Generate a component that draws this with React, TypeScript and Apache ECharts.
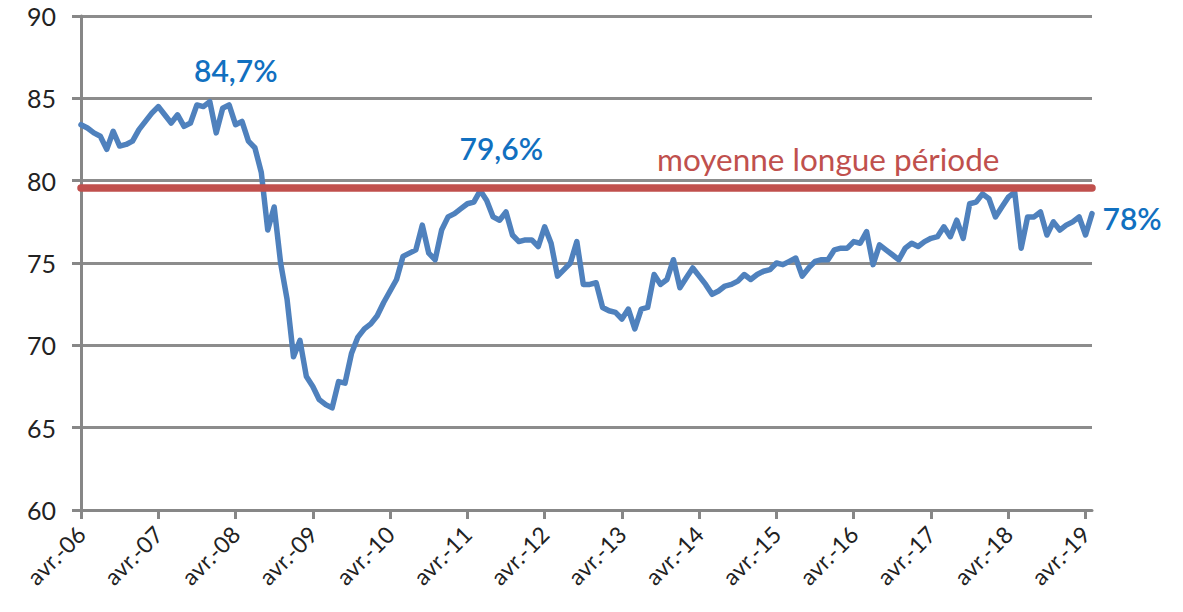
import React, { useEffect, useRef } from "react";
import * as echarts from "echarts";

const startYear = 2006;
const startMonth = 3; // avril
const monthNames = ["janv.", "févr.", "mars", "avr.", "mai", "juin", "juil.", "août", "sept.", "oct.", "nov.", "déc."];

// Taux d'utilisation des capacités, mensuel, avr.-06 à mai-19
const values2006 = [83.4, 83.2, 82.9, 82.7, 81.9, 83.0, 82.1, 82.2, 82.4];
const values2007 = [83.1, 83.6, 84.1, 84.5, 84.0, 83.5, 84.0, 83.3, 83.5, 84.6, 84.5, 84.8];
const values2008 = [82.9, 84.4, 84.6, 83.4, 83.6, 82.4, 82.0, 80.5, 77.0, 78.4, 75.0, 72.8];
const values2009 = [69.3, 70.3, 68.1, 67.5, 66.7, 66.4, 66.2, 67.8, 67.7, 69.5, 70.5, 71.0];
const values2010 = [71.3, 71.8, 72.6, 73.3, 74.0, 75.4, 75.6, 75.8, 77.3, 75.6, 75.2, 77.0];
const values2011 = [77.8, 78.0, 78.3, 78.6, 78.7, 79.4, 78.8, 77.8, 77.6, 78.1, 76.7, 76.3];
const values2012 = [76.4, 76.4, 76.0, 77.2, 76.2, 74.2, 74.6, 75.0, 76.3, 73.7, 73.7, 73.8];
const values2013 = [72.3, 72.1, 72.0, 71.6, 72.2, 71.0, 72.2, 72.3, 74.3, 73.7, 74.0, 75.2];
const values2014 = [73.5, 74.1, 74.7, 74.2, 73.7, 73.1, 73.3, 73.6, 73.7, 73.9, 74.3, 74.0];
const values2015 = [74.3, 74.5, 74.6, 75.0, 74.9, 75.1, 75.3, 74.2, 74.7, 75.1, 75.2, 75.2];
const values2016 = [75.8, 75.9, 75.9, 76.3, 76.2, 76.9, 74.9, 76.1, 75.8, 75.5, 75.2, 75.9];
const values2017 = [76.2, 76.0, 76.3, 76.5, 76.6, 77.2, 76.6, 77.6, 76.5, 78.6, 78.7, 79.2];
const values2018 = [78.9, 77.8, 78.4, 79.0, 79.3, 75.9, 77.8, 77.8, 78.1, 76.7, 77.5, 77.0];
const values2019 = [77.3, 77.5, 77.8, 76.7, 78.0];

const seriesValues = [
  ...values2006, ...values2007, ...values2008, ...values2009, ...values2010,
  ...values2011, ...values2012, ...values2013, ...values2014, ...values2015,
  ...values2016, ...values2017, ...values2018, ...values2019,
];

const categories = seriesValues.map((_, i) => {
  const m = (startMonth + i) % 12;
  const y = startYear + Math.floor((startMonth + i) / 12);
  return `${monthNames[m]}-${String(y % 100).padStart(2, "0")}`;
});

const longTermAverage = 79.6;
const averageLabel = "moyenne longue période";
const annotations = [
  { index: 20, text: "84,7%" },
  { index: 62, text: "79,6%" },
];
const lastLabel = "78%";
const yTicks = { min: 60, max: 90, interval: 5 };

const FONT = "Lato, 'Open Sans', sans-serif";

export default function App() {
  const ref = useRef<HTMLDivElement>(null);
  useEffect(() => {
    if (!ref.current) return;
    const chart = echarts.init(ref.current, null, { renderer: "svg" });
    const last = seriesValues.length - 1;
    const annLabel = {
      show: true,
      fontSize: 30,
      fontWeight: 600,
      color: "#1170C0",
      fontFamily: FONT,
    };
    chart.setOption({
      animation: false,
      backgroundColor: "#ffffff",
      textStyle: { fontFamily: FONT },
      grid: { left: 81, right: 91, top: 16, bottom: 102, containLabel: false },
      xAxis: {
        type: "category",
        data: categories,
        boundaryGap: false,
        axisLine: { show: true, lineStyle: { color: "#878787", width: 3 } },
        axisTick: {
          show: true,
          interval: (i: number) => i % 12 === 0,
          length: 9,
          lineStyle: { color: "#878787", width: 3 },
        },
        axisLabel: {
          interval: (i: number) => i % 12 === 0,
          rotate: 45,
          margin: 20,
          fontSize: 23,
          color: "#222",
          fontFamily: FONT,
        },
        splitLine: { show: false },
      },
      yAxis: {
        type: "value",
        min: yTicks.min,
        max: yTicks.max,
        interval: yTicks.interval,
        axisLine: { show: true, lineStyle: { color: "#878787", width: 3 } },
        axisTick: { show: true, length: 9, lineStyle: { color: "#878787", width: 3 } },
        axisLabel: { fontSize: 25, color: "#222", margin: 25, fontFamily: FONT },
        splitLine: { show: true, lineStyle: { color: "#8c8c8c", width: 3 } },
      },
      series: [
        {
          type: "line",
          data: seriesValues,
          showSymbol: false,
          symbol: "none",
          z: 2,
          lineStyle: { color: "#4F81BD", width: 5.5, cap: "round", join: "round" },
          markPoint: {
            symbol: "circle",
            symbolSize: 1,
            itemStyle: { color: "rgba(0,0,0,0)" },
            silent: true,
            data: [
              ...annotations.map((a, k) => ({
                coord: [a.index, seriesValues[a.index]],
                label: {
                  ...annLabel,
                  formatter: a.text,
                  position: "inside",
                  offset: k === 0 ? [26, -32] : [21, -43],
                },
              })),
              {
                coord: [last, seriesValues[last]],
                label: {
                  ...annLabel,
                  formatter: lastLabel,
                  position: "right",
                  distance: 10,
                  offset: [0, 4],
                },
              },
            ],
          },
        },
        {
          type: "line",
          data: [],
          z: 3,
          markLine: {
            silent: true,
            symbol: ["none", "none"],
            label: { show: false },
            lineStyle: { color: "#C0504D", width: 7.5, type: "solid", cap: "round" },
            data: [{ yAxis: longTermAverage }],
          },
        },
      ],
      graphic: [
        {
          type: "text",
          left: 657,
          top: 143,
          style: {
            text: averageLabel,
            fontSize: 31.5,
            fill: "#C0504D",
            fontFamily: FONT,
          },
        },
      ],
    });
    return () => chart.dispose();
  }, []);
  return (
    <div
      ref={ref}
      style={{ position: "fixed", left: 0, top: 0, width: 1183, height: 612, background: "#fff" }}
    />
  );
}
